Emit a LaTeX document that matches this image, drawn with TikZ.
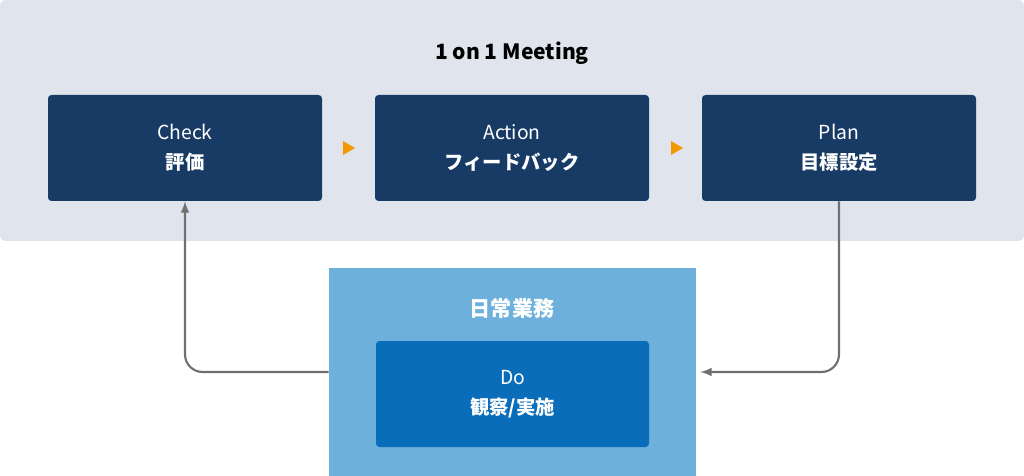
\documentclass[tikz,border=0pt]{standalone}
\usepackage{fontspec}
\setmainfont{Noto Sans CJK JP}
\usetikzlibrary{positioning}
\definecolor{bandgray}{HTML}{DFE4ED}
\definecolor{navy}{HTML}{173B65}
\definecolor{skyblue}{HTML}{6DB0DC}
\definecolor{doblue}{HTML}{0A6DBA}
\definecolor{arrowgray}{HTML}{707070}
\definecolor{tipor}{HTML}{F39800}

\begin{document}
\begin{tikzpicture}[x=0.02cm,y=-0.02cm,
  stepbox/.style={fill=navy,rounded corners=2pt,minimum width=274*0.02cm,minimum height=106*0.02cm,
    text=white,align=center,font=\fontsize{11}{17}\selectfont},
  flow/.style={draw=arrowgray,line width=1.2pt,rounded corners=10pt,-latex}]
\useasboundingbox (0,0) rectangle (1024,476);
\fill[bandgray,rounded corners=3pt] (0,0) rectangle (1024,241);
\node[font=\fontsize{12}{14}\selectfont\bfseries] (title) at (512,53) {1 on 1 Meeting};
\node[stepbox] (check) at (185,148) {Check\\\textbf{評価}};
\node[stepbox] (action) at (512,148) {Action\\\textbf{フィードバック}};
\node[stepbox] (plan) at (839,148) {Plan\\\textbf{目標設定}};
\fill[tipor] (343,141) -- (355,148) -- (343,155) -- cycle;
\fill[tipor] (671,141) -- (683,148) -- (671,155) -- cycle;
\node[fill=skyblue,minimum width=367*0.02cm,minimum height=208*0.02cm,inner sep=0pt] (daily) at (512.5,372) {};
\node[text=white,font=\fontsize{12}{14}\selectfont\bfseries] (dailytitle) at (512,308) {日常業務};
\node[stepbox,fill=doblue,minimum width=273*0.02cm] (do) at (512.5,394) {Do\\\textbf{観察/実施}};
\draw[flow] (plan.south) |- ([xshift=4*0.02cm]daily.east);
\draw[flow] (daily.west) -| (check.south);
\end{tikzpicture}
\end{document}
